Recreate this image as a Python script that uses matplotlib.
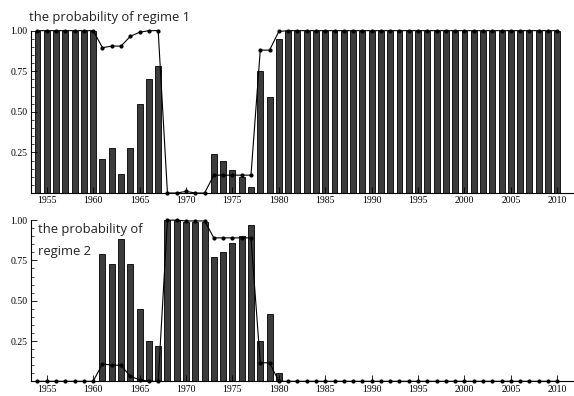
import matplotlib
matplotlib.use("Agg")
import matplotlib.pyplot as plt
from matplotlib.ticker import MultipleLocator, FixedLocator

# --- data ---
years = list(range(1954, 2011))

regime1_bars = [1.0] * 7 + [
    0.21, 0.28, 0.12, 0.28, 0.55, 0.70, 0.78,   # 1961-1967
    0.0, 0.0, 0.0, 0.0, 0.0,                    # 1968-1972
    0.24, 0.20, 0.14, 0.10, 0.04,               # 1973-1977
    0.75, 0.59, 0.95,                           # 1978-1980
] + [1.0] * 30

regime1_line = [1.0] * 7 + [
    0.895, 0.905, 0.905, 0.965, 0.99, 1.0, 1.0,
    0.0, 0.0, 0.01, 0.0, 0.0,
    0.11, 0.11, 0.11, 0.11, 0.11,
    0.88, 0.88, 0.995,
] + [1.0] * 30

regime2_bars = [0.0] * 7 + [
    0.79, 0.73, 0.88, 0.73, 0.45, 0.25, 0.22,
    1.0, 1.0, 0.99, 0.99, 0.99,
    0.77, 0.80, 0.86, 0.90, 0.97,
    0.25, 0.415, 0.05,
] + [0.0] * 30

regime2_line = [0.0] * 7 + [
    0.108, 0.10, 0.10, 0.03, 0.01, 0.0, 0.0,
    1.0, 1.0, 0.995, 0.995, 0.995,
    0.89, 0.89, 0.89, 0.89, 0.89,
    0.115, 0.115, 0.0,
] + [0.0] * 30

year_ticks = [1955, 1960, 1965, 1970, 1975, 1980, 1985, 1990, 1995, 2000, 2005, 2010]
prob_ticks = [0.25, 0.50, 0.75, 1.00]
prob_labels = ["0.25", "0.50", "0.75", "1.00"]

fig = plt.figure(figsize=(5.74, 3.96), dpi=100)
ax1 = fig.add_axes([0.054, 0.5126, 0.946, 0.41])
ax2 = fig.add_axes([0.054, 0.0371, 0.946, 0.407])


def style_panel(ax, bars, line):
    ax.bar(years, bars, width=0.64, color="#3c3c3c", edgecolor="black", linewidth=0.6)
    ax.plot(years, line, color="black", linewidth=0.8, marker="o", markersize=2.0,
            clip_on=False, zorder=3)
    ax.set_xlim(1953.3, 2011.8)
    ax.set_ylim(0, 1.0)
    ax.spines["top"].set_visible(False)
    ax.spines["right"].set_visible(False)
    ax.spines["left"].set_linewidth(0.8)
    ax.spines["bottom"].set_linewidth(0.8)
    ax.xaxis.set_major_locator(FixedLocator(year_ticks))
    ax.set_xticklabels([str(y) for y in year_ticks])
    ax.xaxis.set_minor_locator(MultipleLocator(1))
    ax.set_yticks(prob_ticks)
    ax.set_yticklabels(prob_labels)
    ax.yaxis.set_minor_locator(MultipleLocator(0.05))
    ax.tick_params(axis="both", which="major", direction="in", length=4, width=0.6,
                   labelsize=7, pad=2.5)
    ax.tick_params(axis="both", which="minor", direction="in", length=2, width=0.5)
    ax.tick_params(axis="x", which="minor", length=0)
    for lab in ax.get_xticklabels() + ax.get_yticklabels():
        lab.set_family("Liberation Serif")


style_panel(ax1, regime1_bars, regime1_line)
style_panel(ax2, regime2_bars, regime2_line)

fig.text(0.05, 0.955, "the probability of regime 1", fontsize=9.4,
         family="Open Sans", color="#222222", va="center", ha="left")
ax2.text(0.012, 0.985, "the probability of\nregime 2", transform=ax2.transAxes,
         fontsize=9.4, family="Open Sans", color="#222222", va="top", ha="left",
         linespacing=1.9)

fig.savefig("out.png", dpi=100)
